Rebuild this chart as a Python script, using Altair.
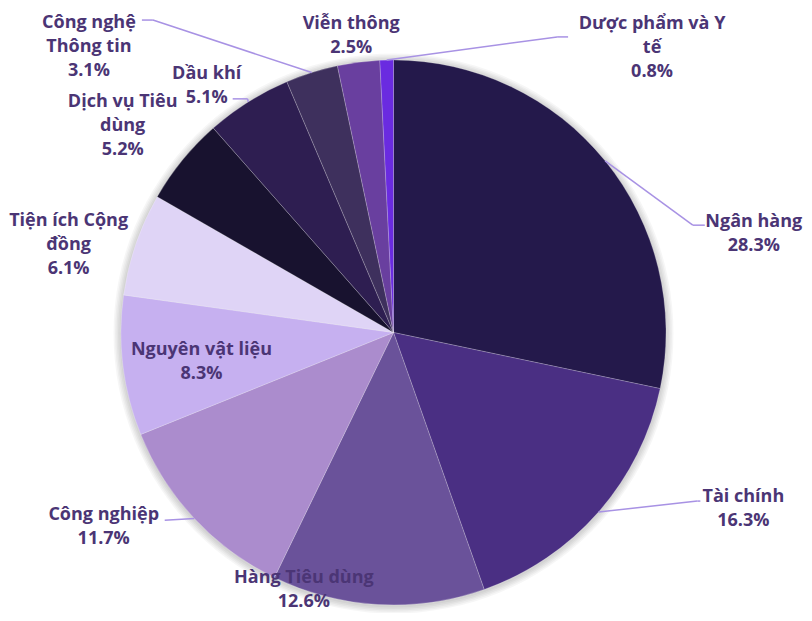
import altair as alt
import pandas as pd

# ---- data ----
sectors = ["Ngân hàng", "Tài chính", "Hàng Tiêu dùng", "Công nghiệp", "Nguyên vật liệu",
           "Tiện ích Cộng đồng", "Dịch vụ Tiêu dùng", "Dầu khí", "Công nghệ Thông tin",
           "Viễn thông", "Dược phẩm và Y tế"]
shares = [28.3, 16.3, 12.6, 11.7, 8.3, 6.1, 5.2, 5.1, 3.1, 2.5, 0.8]
label_text = ["Ngân hàng", "Tài chính", "Hàng Tiêu dùng", "Công nghiệp", "Nguyên vật liệu",
              "Tiện ích Cộng\nđồng", "Dịch vụ Tiêu\ndùng", "Dầu khí", "Công nghệ\nThông tin",
              "Viễn thông", "Dược phẩm và Y\ntế"]

# ---- style / layout ----
colors = ["#24194b", "#4a2f83", "#6a529a", "#ab8ccd", "#c6b0f0", "#dfd4f6",
          "#18122f", "#2e1e51", "#3e305d", "#693f9f", "#6a2be0"]
label_shift = [23.5, -14.7, 16.1, 9.4, -1.2, -3.5, -1.6, -4.7, -29.2, -0.7, 43.5]   # degrees
label_radius = [374, 391, 270.7, 348, 194, 337, 342, 311, 418.8, 301, 386]         # px
has_conn = [1, 1, 0, 1, 0, 0, 0, 1, 1, 0, 1]
conn_dx = [-49, -43, 0, 61, 0, 0, 0, 26, 53, 0, -84]
conn_dy = [-7, -6, 0, -5, 0, 0, 0, 15, -25, 0, -9]
conn_bend = [12, 3, 0, 0, 0, 0, 0, 15, 11, 0, 11]

W, H = 796, 605
CX, CY, R = 385.5, 324.5, 272.5
LH = 24
TXT = "#4b3575"
LINE = "#a892e4"
FONT = "Open Sans"

df = pd.DataFrame({
    "sector": sectors,
    "share": shares,
    "label": label_text,
    "shift": label_shift,
    "lr": label_radius,
    "has_conn": has_conn,
    "cdx": conn_dx,
    "cdy": conn_dy,
    "cb": conn_bend,
})
df["idx"] = range(len(df))
df["text"] = [f"{l}\n{s:.1f}%" for l, s in zip(label_text, shares)]
df["nl"] = [t.count("\n") + 1 for t in df["text"]]

base = (
    alt.Chart(df)
    .transform_window(cum="sum(share)", sort=[alt.SortField("idx")], frame=[None, 0])
    .transform_joinaggregate(total="sum(share)")
    .transform_calculate(mid="(datum.cum - datum.share / 2) / datum.total * 2 * PI")
    .transform_calculate(ex=f"{CX} + {R} * sin(datum.mid)")
    .transform_calculate(ey=f"{CY} - {R} * cos(datum.mid)")
    .transform_calculate(la="datum.mid + datum.shift * PI / 180")
    .transform_calculate(lx=f"{CX} + datum.lr * sin(datum.la)")
    .transform_calculate(ly=f"{CY} - datum.lr * cos(datum.la)")
    .transform_calculate(ty=f"datum.ly - (datum.nl - 1) * {LH} / 2 + 2")
    .transform_calculate(endx="datum.lx + datum.cdx")
    .transform_calculate(endy="datum.ly + datum.cdy")
    .transform_calculate(bx=f"datum.endx + (datum.lx > {CX} ? -datum.cb : datum.cb)")
    .transform_calculate(by="datum.endy")
)

one = pd.DataFrame({"k": [0]})
shadows = [
    alt.Chart(one).mark_arc(radius=r, theta=0, theta2=6.2832, color="#000000", opacity=0.035)
    .encode(x=alt.value(CX), y=alt.value(CY + 1))
    for r in [274, 275.5, 277, 278.5, 280]
]

pie = alt.Chart(df).mark_arc(radius=R, stroke="#ffffff", strokeWidth=0.6, strokeOpacity=0.35).encode(
    theta=alt.Theta("share:Q", stack=True, scale=alt.Scale(nice=False)),
    color=alt.Color("sector:N", scale=alt.Scale(domain=sectors, range=colors), legend=None),
    order=alt.Order("idx:Q"),
    x=alt.value(CX),
    y=alt.value(CY),
)

conn = base.transform_filter("datum.has_conn == 1")
seg1 = conn.mark_rule(color=LINE, strokeWidth=1.5).encode(
    x=alt.X("ex:Q", scale=None, axis=None),
    y=alt.Y("ey:Q", scale=None, axis=None),
    x2="bx:Q",
    y2="by:Q",
)
seg2 = conn.mark_rule(color=LINE, strokeWidth=1.5).encode(
    x=alt.X("bx:Q", scale=None, axis=None),
    y=alt.Y("by:Q", scale=None, axis=None),
    x2="endx:Q",
    y2="endy:Q",
)

labels = base.mark_text(
    font=FONT, fontWeight=700, fontSize=18, lineHeight=LH, color=TXT,
    align="center", baseline="middle", lineBreak="\n",
).encode(
    x=alt.X("lx:Q", scale=None, axis=None),
    y=alt.Y("ty:Q", scale=None, axis=None),
    text="text:N",
)

chart = (
    alt.layer(*shadows, pie, seg1, seg2, labels)
    .properties(width=W, height=H, autosize=alt.AutoSizeParams(type="none"), padding=0,
                background="#ffffff")
    .configure_view(stroke=None)
)

chart.save("out.html", embed_options={"renderer": "svg", "actions": False})
